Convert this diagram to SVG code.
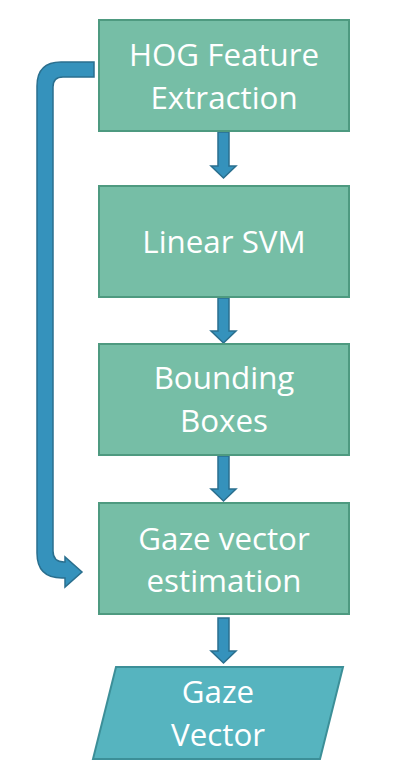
<svg xmlns="http://www.w3.org/2000/svg" width="404" height="773" viewBox="0 0 404 773">
<style>
.box{fill:#76BEA6;stroke:#4E9A80;stroke-width:2}
.para{fill:#56B4BF;stroke:#3C8F98;stroke-width:2}
.t{font-family:"Open Sans","Noto Sans",sans-serif;font-size:31.3px;fill:#FFFFFF;text-anchor:middle}
.arr{fill:#3592BC;stroke:#2A6F8E;stroke-width:1.5;stroke-linejoin:miter}
</style>
<rect width="404" height="773" fill="#FFFFFF"/>
<g id="connectors">
<path class="arr" d="M218,132 H229 V166 H236 L223.5,178 L211,166 H218 Z"/>
<path class="arr" d="M218,298 H229 V331 H236 L223.5,343 L211,331 H218 Z"/>
<path class="arr" d="M218,456 H229 V489 H236 L223.5,501 L211,489 H218 Z"/>
<path class="arr" d="M218,618 H229 V651 H236 L223.5,663 L211,651 H218 Z"/>
<path class="arr" d="M94,62 V77 H63 Q53,77 53,87 V551 Q53,562 64,562 H65 V557 L82,572 L65,587 V578 H62 Q37,578 37,553 V86 Q37,62 61,62 Z"/>
</g>
<g id="hog">
<rect class="box" x="99" y="20" width="250" height="111"/>
<text class="t" x="224" y="66">HOG Feature</text>
<text class="t" x="224" y="109">Extraction</text>
</g>
<g id="svm">
<rect class="box" x="99" y="186" width="250" height="111"/>
<text class="t" x="224" y="253">Linear SVM</text>
</g>
<g id="bbox">
<rect class="box" x="99" y="344" width="250" height="111"/>
<text class="t" x="224" y="389">Bounding</text>
<text class="t" x="224" y="432">Boxes</text>
</g>
<g id="gaze-est">
<rect class="box" x="99" y="503" width="250" height="111"/>
<text class="t" x="224" y="550">Gaze vector</text>
<text class="t" x="224" y="592">estimation</text>
</g>
<g id="gaze-vec">
<path class="para" d="M116,667 H343 L320,759 H93 Z"/>
<text class="t" x="218" y="703">Gaze</text>
<text class="t" x="218" y="746">Vector</text>
</g>
</svg>
